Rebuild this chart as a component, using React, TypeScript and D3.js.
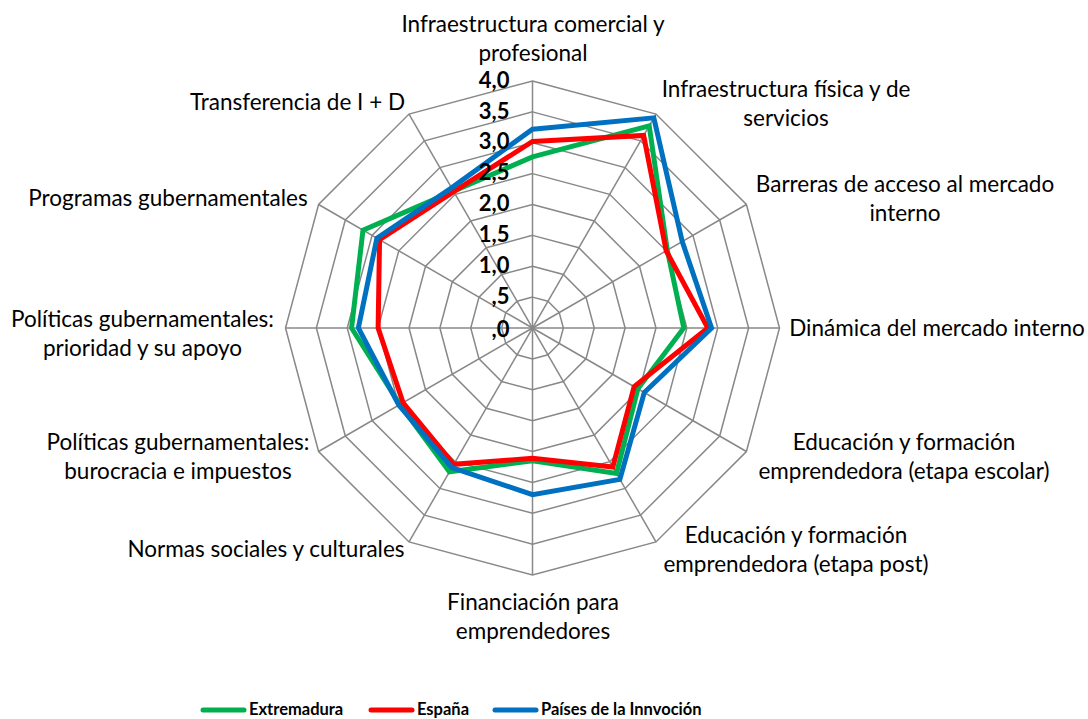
import React from 'react';
import * as d3 from 'd3';

const categories: string[][] = [
  ['Infraestructura comercial y', 'profesional'],
  ['Infraestructura física y de', 'servicios'],
  ['Barreras de acceso al mercado', 'interno'],
  ['Dinámica del mercado interno'],
  ['Educación y formación', 'emprendedora (etapa escolar)'],
  ['Educación y formación', 'emprendedora (etapa post)'],
  ['Financiación para', 'emprendedores'],
  ['Normas sociales y culturales'],
  ['Políticas gubernamentales:', 'burocracia e impuestos'],
  ['Políticas gubernamentales:', 'prioridad y su apoyo'],
  ['Programas gubernamentales'],
  ['Transferencia de I + D'],
];

const extremadura = [2.77, 3.78, 2.52, 2.45, 1.97, 2.72, 2.15, 2.69, 2.48, 2.93, 3.17, 2.56];
const espana = [3.02, 3.6, 2.5, 2.84, 1.9, 2.6, 2.11, 2.55, 2.42, 2.5, 2.86, 2.55];
const innovacion = [3.22, 3.93, 2.8, 2.9, 2.09, 2.83, 2.7, 2.61, 2.5, 2.82, 2.91, 2.62];

const seriesNames = ['Extremadura', 'España', 'Países de la Innvoción'];
const tickValues = [0, 0.5, 1, 1.5, 2, 2.5, 3, 3.5, 4];
const tickLabels = [',0', ',5', '1,0', '1,5', '2,0', '2,5', '3,0', '3,5', '4,0'];

// layout (pixels) - label block centers and first baselines
const labelLayout: { cx: number; y: number }[] = [
  { cx: 533, y: 32 },
  { cx: 786, y: 97 },
  { cx: 905, y: 192 },
  { cx: 937, y: 336 },
  { cx: 904, y: 450 },
  { cx: 796, y: 543 },
  { cx: 533, y: 610 },
  { cx: 266, y: 557 },
  { cx: 178, y: 450 },
  { cx: 142.5, y: 327 },
  { cx: 168, y: 206 },
  { cx: 297.5, y: 110 },
];

const W = 1088;
const H = 719;
const CX = 532.5;
const CY = 328;
const R = 247;
const FONT = 'Lato, "Open Sans", sans-serif';

export default function App() {
  const series = [extremadura, espana, innovacion];
  const colors = ['#00B050', '#FF0000', '#0070C0'];
  const n = categories.length;
  const r = d3.scaleLinear().domain([0, 4]).range([0, R]);
  const angle = (i: number) => (i / n) * 2 * Math.PI;
  const radial = d3
    .lineRadial<number>()
    .angle((_d, i) => angle(i))
    .radius((d) => r(d))
    .curve(d3.curveLinearClosed);

  const legendX = [203, 371, 495];

  return (
    <svg
      width={W}
      height={H}
      style={{ position: 'absolute', left: 0, top: 0, background: '#fff' }}
      fontFamily={FONT}
    >
      <rect width={W} height={H} fill="#fff" />
      <g transform={`translate(${CX},${CY})`}>
        {tickValues.slice(1).map((t) => (
          <path
            key={t}
            d={radial(new Array(n).fill(t)) || ''}
            fill="none"
            stroke="#888"
            strokeWidth={1.5}
          />
        ))}
        {categories.map((_c, i) => (
          <line
            key={i}
            x1={0}
            y1={0}
            x2={r(4) * Math.sin(angle(i))}
            y2={-r(4) * Math.cos(angle(i))}
            stroke="#888"
            strokeWidth={1.5}
          />
        ))}
        {series.map((s, k) => (
          <path
            key={k}
            d={radial(s) || ''}
            fill="none"
            stroke={colors[k]}
            strokeWidth={5}
            strokeLinejoin="miter"
          />
        ))}
        {tickValues.map((t, i) => (
          <text
            key={t}
            x={-23}
            y={-r(t) + (t === 0 ? 3 : 1)}
            textAnchor="end"
            dominantBaseline="middle"
            fontWeight="bold"
            fontSize={22}
            fill="#000"
          >
            {tickLabels[i]}
          </text>
        ))}
      </g>
      {categories.map((lines, i) => (
        <text key={i} textAnchor="middle" fontSize={22.5} fill="#000">
          {lines.map((ln, j) => (
            <tspan key={j} x={labelLayout[i].cx} y={labelLayout[i].y + j * 29}>
              {ln}
            </tspan>
          ))}
        </text>
      ))}
      {seriesNames.map((name, k) => (
        <g key={name}>
          <line
            x1={legendX[k]}
            x2={legendX[k] + 41}
            y1={710}
            y2={710}
            stroke={colors[k]}
            strokeWidth={5}
            strokeLinecap="round"
          />
          <text
            x={legendX[k] + 46}
            y={715}
            fontWeight="bold"
            fontSize={16.5}
            fill="#000"
          >
            {name}
          </text>
        </g>
      ))}
    </svg>
  );
}
